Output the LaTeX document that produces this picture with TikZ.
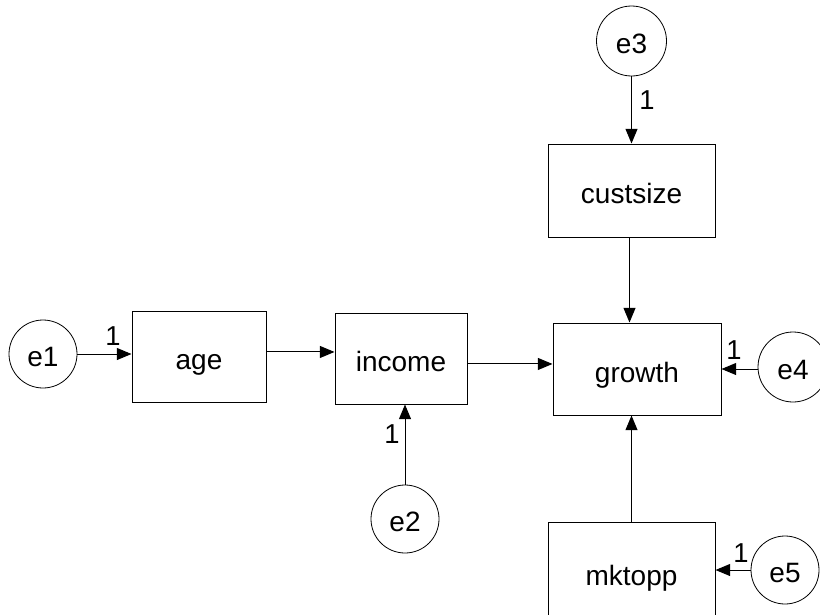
\documentclass[tikz,border=0pt]{standalone}
\usepackage{fontspec}
\setmainfont{Liberation Sans}
\usetikzlibrary{arrows.meta}
\begin{document}
\begin{tikzpicture}[x=0.75pt,y=-0.75pt,
  observed/.style={draw, line width=0.75pt, rectangle, inner sep=0pt,
    text height=19.5pt, text depth=0pt,
    font=\fontsize{21}{25}\selectfont},
  errterm/.style={draw, line width=0.6pt, circle, inner sep=0pt,
    text height=19pt, text depth=0pt,
    minimum size=51pt, font=\fontsize{21}{25}\selectfont},
  regpath/.style={line width=0.75pt, -{Triangle[length=11pt,width=9pt]}},
  weight/.style={font=\fontsize{20.5}{24}\selectfont, inner sep=0pt}]
\clip (0,0) rectangle (820,614);

% observed variables
\node[observed, minimum width=100.5pt, minimum height=68.25pt] (age)      at (199,356.5)  {age};
\node[observed, minimum width=99pt,    minimum height=68.25pt] (income)   at (401,358.5)  {income};
\node[observed, minimum width=126pt,   minimum height=69pt]    (growth)   at (637,369)    {growth};
\node[observed, minimum width=125.25pt,minimum height=69.75pt] (custsize) at (631.5,190.5){custsize};
\node[observed, minimum width=125.25pt,minimum height=75pt]    (mktopp)   at (631.5,572)  {mktopp};

% error terms
\node[errterm] (e1) at (43,354)    {e1};
\node[errterm] (e2) at (405,519)   {e2};
\node[errterm, minimum size=52.5pt] (e3) at (631.5,41) {e3};
\node[errterm, minimum size=52.5pt] (e4) at (793,367)  {e4};
\node[errterm] (e5) at (785,570)   {e5};

% structural paths
\draw[regpath] (e1.east) -- (e1.east -| age.west);
\draw[regpath] ([yshift=3.4pt]age.east) -- ([yshift=3.4pt]age.east -| income.west);
\draw[regpath] ([yshift=-4.1pt]income.east) -- ([yshift=-4.1pt]income.east -| growth.west);
\draw[regpath] (e2.north) -- (e2.north |- income.south);
\draw[regpath] (e3.south) -- (e3.south |- custsize.north);
\draw[regpath] ([xshift=-1.5pt]custsize.south) -- ([xshift=-1.5pt]custsize.south |- growth.north);
\draw[regpath] ([yshift=-1.5pt]e4.west) -- ([yshift=-1.5pt]e4.west -| growth.east);
\draw[regpath] (mktopp.north) -- (mktopp.north |- growth.south);
\draw[regpath] (e5.west) -- (e5.west -| mktopp.east);

% fixed regression weights
\node[weight] (w1) at (113,336) {1};
\node[weight] (w2) at (392,434) {1};
\node[weight] (w3) at (647,100) {1};
\node[weight] (w4) at (734,350) {1};
\node[weight] (w5) at (741,553) {1};
\end{tikzpicture}
\end{document}
